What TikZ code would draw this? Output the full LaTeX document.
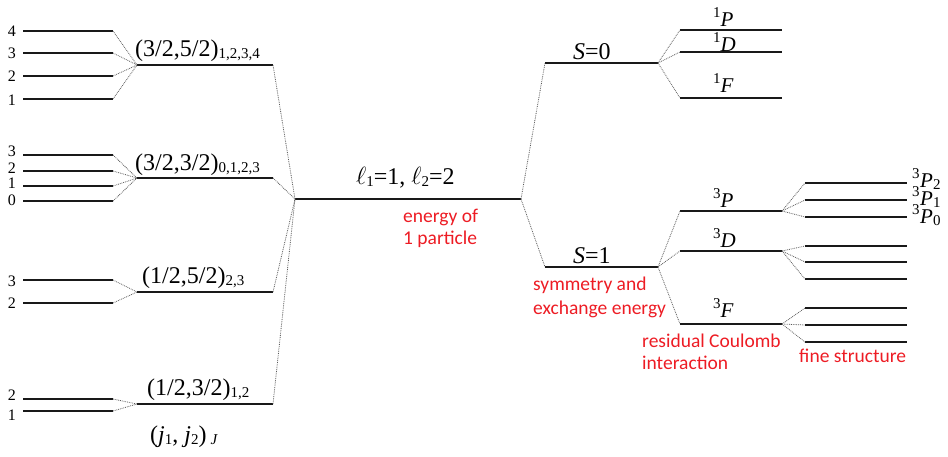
\documentclass[tikz,border=0pt]{standalone}
\usepackage{fontspec}
\setmainfont{Liberation Serif}
\newfontfamily\redfont{Carlito}
\definecolor{notered}{RGB}{237,28,36}
\newcommand{\lsub}[1]{\raisebox{-2.5pt}{\fontsize{15}{15}\selectfont #1}}
\newcommand{\tsub}[1]{\raisebox{-2pt}{\fontsize{15}{15}\selectfont #1}}
\newcommand{\lsup}[1]{\raisebox{9pt}{\fontsize{15}{15}\selectfont #1}}
\begin{document}
\begin{tikzpicture}[x=1pt,y=-1pt,
  level/.style={line width=2.5pt, black!90},
  conn/.style={densely dotted, line width=0.8pt, black!65},
  lab/.style={font=\fontsize{24}{26}\selectfont, inner sep=0pt, anchor=base west},
  term/.style={font=\fontsize{21}{23}\selectfont, inner sep=0pt, anchor=base west},
  num/.style={font=\fontsize{16}{17}\selectfont, inner sep=0pt, anchor=center},
  note/.style={font=\redfont\fontsize{19.5}{22}\selectfont, text=notered, align=left, inner sep=0pt, anchor=north west}]
\useasboundingbox (0,0) rectangle (948,456);

% ---------- left: jj coupling ----------
\coordinate (aL) at (137,65);  \coordinate (aR) at (273,65);
\coordinate (bL) at (137,178); \coordinate (bR) at (273,178);
\coordinate (cL) at (137,292); \coordinate (cR) at (273,292);
\coordinate (dL) at (137,404); \coordinate (dR) at (273,404);
\foreach \p in {a,b,c,d} \draw[level] (\p L) -- (\p R);

\foreach \y/\n/\ny [count=\i] in {31/4/31,53/3/53,76/2/76,99/1/100} {
  \coordinate (a\i l) at (23,\y); \coordinate (a\i r) at (113,\y);
  \draw[level] (a\i l) -- (a\i r);
  \node[num] (na\i) at (12,\ny) {\n};
  \draw[conn] (a\i r) -- (aL);
}
\foreach \y/\n/\ny [count=\i] in {155/3/151,171/2/168,186/1/183,201/0/200} {
  \coordinate (b\i l) at (23,\y); \coordinate (b\i r) at (113,\y);
  \draw[level] (b\i l) -- (b\i r);
  \node[num] (nb\i) at (12,\ny) {\n};
  \draw[conn] (b\i r) -- (bL);
}
\foreach \y/\n/\ny [count=\i] in {280/3/281,303/2/303} {
  \coordinate (c\i l) at (23,\y); \coordinate (c\i r) at (113,\y);
  \draw[level] (c\i l) -- (c\i r);
  \node[num] (nc\i) at (12,\ny) {\n};
  \draw[conn] (c\i r) -- (cL);
}
\foreach \y/\n/\ny [count=\i] in {399/2/395,411/1/415} {
  \coordinate (d\i l) at (23,\y); \coordinate (d\i r) at (113,\y);
  \draw[level] (d\i l) -- (d\i r);
  \node[num] (nd\i) at (12,\ny) {\n};
  \draw[conn] (d\i r) -- (dL);
}

\node[lab] (la) at (135,56) {(3/2,5/2)\lsub{1,2,3,4}};
\node[lab] (lb) at (135,170) {(3/2,3/2)\lsub{0,1,2,3}};
\node[lab] (lc) at (142,283) {(1/2,5/2)\lsub{2,3}};
\node[lab] (ld) at (147,395) {(1/2,3/2)\lsub{1,2}};
\node[lab] (ljj) at (150,442) {(\textit{j}\lsub{1}, \textit{j}\lsub{2})\,\lsub{\textit{J}}};

% ---------- middle ----------
\coordinate (mL) at (295,199); \coordinate (mR) at (521,199);
\draw[level] (mL) -- (mR);
\foreach \p in {a,b,c,d} \draw[conn] (\p R) -- (mL);
\node[lab] (lm) at (356,184) {$\ell$\lsub{1}=1, $\ell$\lsub{2}=2};
\node[note] (e1) at (403,209) {energy of\\1 particle};

% ---------- LS: S levels ----------
\coordinate (s0L) at (545,63);  \coordinate (s0R) at (658,63);
\coordinate (s1L) at (545,267); \coordinate (s1R) at (658,267);
\draw[level] (s0L) -- (s0R);
\draw[level] (s1L) -- (s1R);
\draw[conn] (mR) -- (s0L);
\draw[conn] (mR) -- (s1L);
\node[lab] (ls0) at (573,59) {\textit{S}=0};
\node[lab] (ls1) at (573,263) {\textit{S}=1};
\node[note, font=\redfont\fontsize{19.5}{24}\selectfont] (e2) at (533,277) {symmetry and\\exchange energy};

% ---------- singlets ----------
\foreach \y [count=\i] in {30,52,98} {
  \coordinate (sg\i L) at (680,\y); \coordinate (sg\i R) at (782,\y);
  \draw[level] (sg\i L) -- (sg\i R);
  \draw[conn] (s0R) -- (sg\i L);
}
\node[term] (l1p) at (713,26) {\lsup{1}\textit{P}};
\node[term] (l1d) at (713,51) {\lsup{1}\textit{D}};
\node[term] (l1f) at (713,92) {\lsup{1}\textit{F}};

% ---------- triplets ----------
\foreach \y [count=\i] in {211,251,324} {
  \coordinate (tr\i L) at (680,\y); \coordinate (tr\i R) at (782,\y);
  \draw[level] (tr\i L) -- (tr\i R);
  \draw[conn] (s1R) -- (tr\i L);
}
\node[term] (l3p) at (713,207) {\lsup{3}\textit{P}};
\node[term] (l3d) at (713,247) {\lsup{3}\textit{D}};
\node[term] (l3f) at (713,317) {\lsup{3}\textit{F}};
\node[note] (e3) at (642,334) {residual Coulomb\\interaction};

% ---------- fine structure ----------
\foreach \y [count=\i] in {183,200,217} {
  \coordinate (fp\i L) at (805,\y); \coordinate (fp\i R) at (907,\y);
  \draw[level] (fp\i L) -- (fp\i R);
  \draw[conn] (tr1R) -- (fp\i L);
}
\foreach \y [count=\i] in {246,262,279} {
  \coordinate (fd\i L) at (805,\y); \coordinate (fd\i R) at (907,\y);
  \draw[level] (fd\i L) -- (fd\i R);
  \draw[conn] (tr2R) -- (fd\i L);
}
\foreach \y [count=\i] in {308,325,342} {
  \coordinate (ff\i L) at (805,\y); \coordinate (ff\i R) at (907,\y);
  \draw[level] (ff\i L) -- (ff\i R);
  \draw[conn] (tr3R) -- (ff\i L);
}
\foreach \yb/\j in {187/2,205/1,223/0} {
  \node[term, font=\fontsize{15}{15}\selectfont] (lps\j) at (912,\yb-9) {3};
  \node[term] (lp\j) at (920,\yb) {\textit{P}\tsub{\j}};
}
\node[note] (e4) at (799,349) {fine structure};
\end{tikzpicture}
\end{document}
